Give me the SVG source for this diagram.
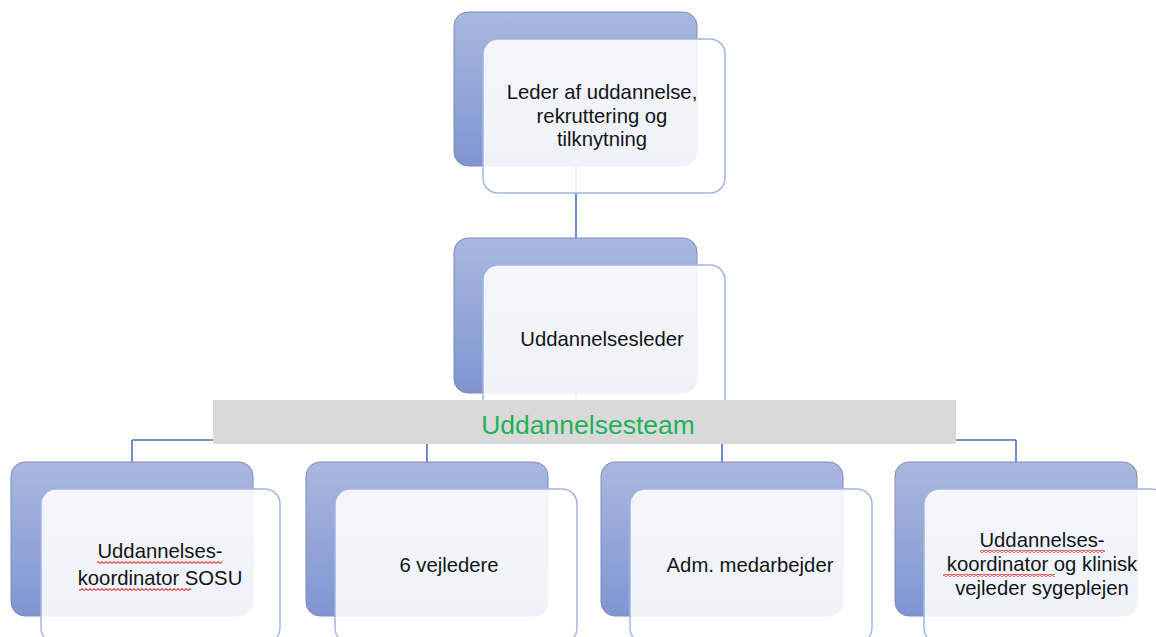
<svg xmlns="http://www.w3.org/2000/svg" width="1156" height="637" viewBox="0 0 1156 637">
<style>
.back{fill:url(#bg);stroke:#7d8cb5;stroke-width:1}
.front{fill:#ffffff;fill-opacity:0.88;stroke:#9fb5e4;stroke-width:1.5}
.lbl{font-family:"Liberation Sans",Arial,sans-serif;font-size:20.3px;fill:#141414;text-anchor:middle}
.con{fill:none;stroke:#4a6fc4;stroke-width:1.6}
.band{fill:#d9d9d9}
.team{font-family:"Liberation Sans",Arial,sans-serif;font-size:26.5px;fill:#1fb25a;text-anchor:middle}
.sq{fill:url(#squig)}
</style>
<defs>
<linearGradient id="bg" x1="0" y1="0" x2="0" y2="1">
<stop offset="0" stop-color="#a9b8e1"/>
<stop offset="1" stop-color="#8095d0"/>
</linearGradient>
<pattern id="squig" x="0" y="0" width="4" height="3" patternUnits="userSpaceOnUse">
<path d="M0 2.5 L2 0.5 L4 2.5" fill="none" stroke="#e04848" stroke-width="1.1"/>
</pattern>
</defs>
<rect width="1156" height="637" fill="#ffffff"/>
<g id="connectors">
<path class="con" d="M576 166 V238"/>
<path class="con" d="M576 393 V440"/>
<path class="con" d="M132 440 H1016"/>
<path class="con" d="M132 440 V462"/>
<path class="con" d="M427 440 V462"/>
<path class="con" d="M722 440 V462"/>
<path class="con" d="M1016 440 V462"/>
</g>
<g id="node-leder">
<rect class="back" x="454" y="12" width="243" height="154" rx="14"/>
<rect class="front" x="483" y="39" width="242" height="154" rx="15"/>
<text class="lbl" x="602" y="99">Leder af uddannelse,</text>
<text class="lbl" x="602" y="123">rekruttering og</text>
<text class="lbl" x="602" y="146">tilknytning</text>
</g>
<g id="node-uddannelsesleder">
<rect class="back" x="454" y="238" width="243" height="155" rx="14"/>
<rect class="front" x="483" y="265" width="242" height="154" rx="15"/>
<text class="lbl" x="602" y="346">Uddannelsesleder</text>
</g>
<g id="band-uddannelsesteam">
<rect class="band" x="213" y="400" width="743" height="44"/>
<text class="team" x="588" y="434">Uddannelsesteam</text>
</g>
<g id="node-sosu">
<rect class="back" x="11" y="462" width="242" height="154" rx="14"/>
<rect class="front" x="41" y="489" width="239" height="154" rx="15"/>
<text class="lbl" x="160" y="558">Uddannelses-</text>
<text class="lbl" x="160" y="585">koordinator SOSU</text>
<rect class="sq" x="97" y="561" width="125" height="3"/>
<rect class="sq" x="79" y="588" width="112" height="3"/>
</g>
<g id="node-vejledere">
<rect class="back" x="306" y="462" width="242" height="154" rx="14"/>
<rect class="front" x="335" y="489" width="242" height="154" rx="15"/>
<text class="lbl" x="449" y="572">6 vejledere</text>
</g>
<g id="node-adm">
<rect class="back" x="601" y="462" width="242" height="154" rx="14"/>
<rect class="front" x="630" y="489" width="242" height="154" rx="15"/>
<text class="lbl" x="750" y="572">Adm. medarbejder</text>
</g>
<g id="node-sygeplejen">
<rect class="back" x="895" y="462" width="242" height="154" rx="14"/>
<rect class="front" x="924" y="489" width="242" height="154" rx="15"/>
<text class="lbl" x="1042" y="547">Uddannelses-</text>
<text class="lbl" x="1042" y="571">koordinator og klinisk</text>
<text class="lbl" x="1042" y="595">vejleder sygeplejen</text>
<rect class="sq" x="980" y="550" width="125" height="3"/>
<rect class="sq" x="943" y="574" width="112" height="3"/>
</g>
</svg>
